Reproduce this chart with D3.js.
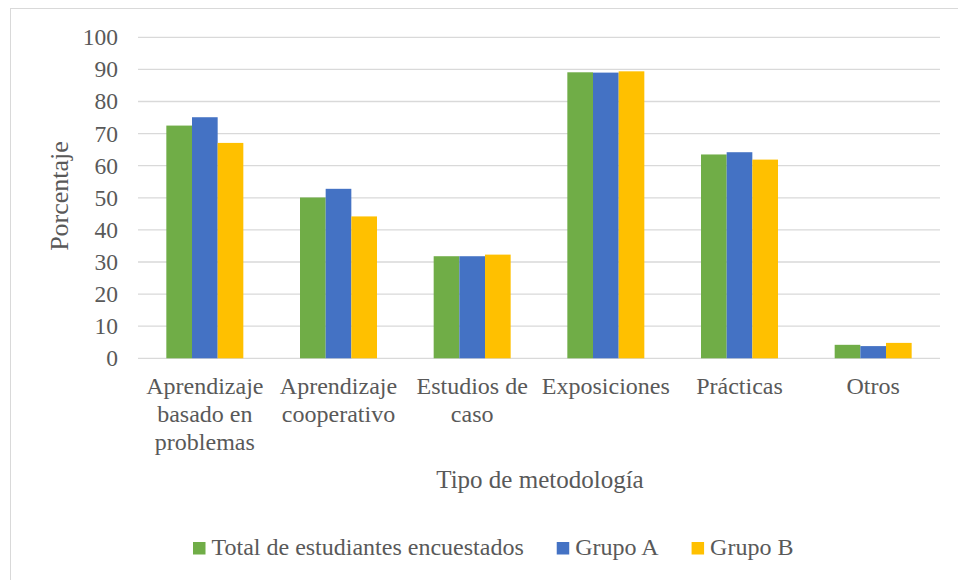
<!DOCTYPE html>
<html>
<head>
<meta charset="utf-8">
<script src="https://cdn.jsdelivr.net/npm/d3@7"></script>
<style>
  body { margin: 0; background: #fff; }
  svg text { font-family: "Liberation Serif", "Times New Roman", "DejaVu Serif", serif; }
</style>
</head>
<body>
<svg id="chart"></svg>
<script>
const WIDTH = 958;
const HEIGHT = 580;

// Categories and series.
const categories = [
  ['Aprendizaje', 'basado en', 'problemas'],
  ['Aprendizaje', 'cooperativo'],
  ['Estudios de', 'caso'],
  ['Exposiciones'],
  ['Prácticas'],
  ['Otros']
];
const seriesNames = ['Total de estudiantes encuestados', 'Grupo A', 'Grupo B'];
const totalValues = [72.5, 50.1, 31.8, 89.1, 63.5, 4.2];
const grupoAValues = [75.1, 52.8, 31.8, 89.0, 64.2, 3.8];
const grupoBValues = [67.1, 44.2, 32.3, 89.4, 61.9, 4.8];
const yTicks = [0, 10, 20, 30, 40, 50, 60, 70, 80, 90, 100];
const colors = ['#70ad47', '#4472c4', '#ffc000'];

const series = [totalValues, grupoAValues, grupoBValues];
const textColor = '#595959';

const svg = d3.select('#chart')
  .attr('width', WIDTH)
  .attr('height', HEIGHT)
  .attr('viewBox', `0 0 ${WIDTH} ${HEIGHT}`);

// Outer frame of the chart area.
svg.append('rect')
  .attr('x', 10.5).attr('y', 8.5)
  .attr('width', 960).attr('height', 600)
  .attr('fill', 'none')
  .attr('stroke', '#d9d9d9');

const plot = {left: 138, right: 940, top: 37.3, bottom: 358.3};

const x0 = d3.scaleBand()
  .domain(d3.range(categories.length))
  .range([plot.left, plot.right])
  .paddingInner(0.424)
  .paddingOuter(0.212);

const x1 = d3.scaleBand()
  .domain(d3.range(series.length))
  .range([0, x0.bandwidth()]);

const y = d3.scaleLinear().domain([0, 100]).range([plot.bottom, plot.top]);

// Gridlines.
svg.append('g')
  .selectAll('line')
  .data(yTicks)
  .join('line')
  .attr('x1', plot.left).attr('x2', plot.right)
  .attr('y1', d => y(d)).attr('y2', d => y(d))
  .attr('stroke', '#d9d9d9')
  .attr('stroke-width', 1.3);

// Y tick labels.
svg.append('g')
  .selectAll('text')
  .data(yTicks)
  .join('text')
  .attr('x', 118)
  .attr('y', d => y(d))
  .attr('dy', '0.34em')
  .attr('text-anchor', 'end')
  .attr('font-size', 23.5)
  .attr('fill', textColor)
  .text(d => d);

// Bars.
const groups = svg.append('g')
  .selectAll('g')
  .data(categories.map((c, i) => i))
  .join('g')
  .attr('transform', i => `translate(${x0(i)},0)`);

groups.selectAll('rect')
  .data(i => series.map((s, k) => ({k, v: s[i]})))
  .join('rect')
  .attr('x', d => x1(d.k))
  .attr('width', x1.bandwidth())
  .attr('y', d => y(d.v))
  .attr('height', d => y(0) - y(d.v))
  .attr('fill', d => colors[d.k]);

// Category labels.
const catLabels = svg.append('g')
  .selectAll('text')
  .data(categories)
  .join('text')
  .attr('text-anchor', 'middle')
  .attr('font-size', 24)
  .attr('fill', textColor)
  .attr('transform', (d, i) => `translate(${x0(i) + x0.bandwidth() / 2},394)`);

catLabels.selectAll('tspan')
  .data(d => d)
  .join('tspan')
  .attr('x', 0)
  .attr('y', (d, i) => i * 28)
  .text(d => d);

// Axis titles.
svg.append('text')
  .attr('transform', 'translate(68,196) rotate(-90)')
  .attr('text-anchor', 'middle')
  .attr('font-size', 26)
  .attr('fill', textColor)
  .text('Porcentaje');

svg.append('text')
  .attr('x', 540).attr('y', 488)
  .attr('text-anchor', 'middle')
  .attr('font-size', 25)
  .attr('fill', textColor)
  .text('Tipo de metodología');

// Legend, laid out from the measured text widths.
const legend = svg.append('g').attr('transform', 'translate(0,548)');
let cursor = 193;
seriesNames.forEach((name, i) => {
  legend.append('rect')
    .attr('x', cursor).attr('y', -6)
    .attr('width', 12.5).attr('height', 12.5)
    .attr('fill', colors[i]);
  const t = legend.append('text')
    .attr('x', cursor + 18.5)
    .attr('y', 7)
    .attr('font-size', 24)
    .attr('fill', textColor)
    .text(name);
  cursor += 18.5 + t.node().getComputedTextLength() + 33;
});
</script>
</body>
</html>
